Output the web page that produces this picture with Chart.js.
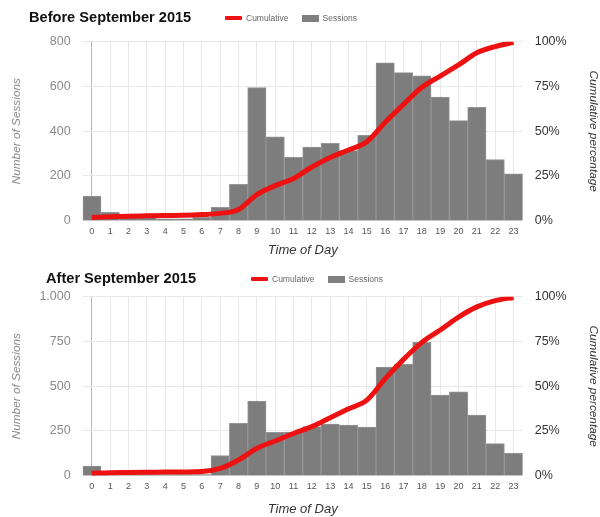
<!DOCTYPE html>
<html lang="en">
<head>
  <meta charset="UTF-8">
  <title>Sessions by Time of Day</title>
  <script src="https://cdn.jsdelivr.net/npm/chart.js"></script>
  <style>
    body {
      margin: 0;
      background: #fff;
      font-family: "Liberation Sans", Arial, sans-serif;
    }
    .panel {
      position: relative;
      width: 600px;
    }
    .title {
      position: absolute;
      font-weight: bold;
      font-size: 14.6px;
      color: #111;
    }
    .legend {
      position: absolute;
      font-size: 8.5px;
      color: #666;
      display: flex;
      align-items: center;
    }
    .legend .line {
      display: inline-block;
      width: 17px;
      height: 4px;
      background: #ee1111;
      border-radius: 1px;
      margin-right: 4px;
    }
    .legend .box {
      display: inline-block;
      width: 17px;
      height: 7px;
      background: #7f7f7f;
      margin: 0 4px 0 13px;
    }
  </style>
</head>
<body>
  <div class="panel" style="height:258px">
    <div class="title" style="left:29px; top:9px">Before September 2015</div>
    <div class="legend" style="left:225px; top:13px"><span class="line"></span>Cumulative<span class="box"></span>Sessions</div>
    <canvas id="beforeChart" width="600" height="258"></canvas>
  </div>
  <div class="panel" style="height:259px">
    <div class="title" style="left:46px; top:12px">After September 2015</div>
    <div class="legend" style="left:251px; top:16px"><span class="line"></span>Cumulative<span class="box"></span>Sessions</div>
    <canvas id="afterChart" width="600" height="259"></canvas>
  </div>

  <script>
    // Hours of the day
    const hours = ['0', '1', '2', '3', '4', '5', '6', '7', '8', '9', '10', '11',
                   '12', '13', '14', '15', '16', '17', '18', '19', '20', '21', '22', '23'];

    // Before September 2015
    const sessionsBefore = [110, 37, 15, 15, 8, 8, 15, 60, 162, 595, 375, 283,
                            329, 346, 313, 381, 706, 662, 647, 553, 447, 507, 273, 210];
    const cumulativeBefore = [1.8, 2.2, 2.5, 2.7, 2.9, 3.0, 3.4, 4.1, 6.3, 14.6, 19.6, 23.6,
                              30.0, 35.3, 39.5, 44.1, 55.0, 65.0, 74.5, 80.8, 87.0, 93.8, 97.3, 99.6];
    const ticksBefore = { max: 800, step: 200 };

    // After September 2015
    const sessionsAfter = [54, 6, 6, 6, 6, 6, 6, 112, 292, 417, 242, 244,
                           274, 289, 283, 272, 607, 622, 745, 451, 469, 339, 179, 125];
    const cumulativeAfter = [1.4, 1.7, 1.8, 1.9, 2.0, 2.1, 2.3, 4.1, 8.8, 15.3, 19.4, 23.6,
                             27.4, 32.4, 37.4, 42.2, 54.2, 65.0, 74.5, 81.4, 88.6, 94.3, 97.8, 99.6];
    const ticksAfter = { max: 1000, step: 250 };

    function makeChart(canvasId, sessions, cumulative, ticks, topPad, xAxisHeight) {
      const ctx = document.getElementById(canvasId).getContext('2d');
      return new Chart(ctx, {
        type: 'bar',
        data: {
          labels: hours,
          datasets: [
            {
              type: 'line',
              label: 'Cumulative',
              data: cumulative,
              yAxisID: 'yPct',
              borderColor: '#ee1111',
              borderWidth: 5,
              pointRadius: 0,
              tension: 0.4,
              cubicInterpolationMode: 'monotone',
              order: 0
            },
            {
              label: 'Sessions',
              data: sessions,
              yAxisID: 'y',
              backgroundColor: '#7d7d7d',
              borderColor: '#959595',
              borderWidth: 1,
              barPercentage: 1,
              categoryPercentage: 1,
              order: 1
            }
          ]
        },
        options: {
          responsive: false,
          devicePixelRatio: 1,
          animation: false,
          layout: { padding: { top: topPad, left: 0, right: 0, bottom: 0 } },
          plugins: {
            legend: { display: false },
            tooltip: { enabled: false }
          },
          scales: {
            x: {
              grid: {
                offset: false,
                drawTicks: false,
                color: (c) => c.index === 0 ? '#b8b8b8' : '#e8e8e8'
              },
              border: { display: false },
              ticks: {
                padding: 5,
                color: '#555',
                font: { size: 9, family: 'Liberation Sans' }
              },
              title: {
                display: true,
                text: 'Time of Day',
                color: '#333',
                padding: 0,
                font: { size: 13, style: 'italic', family: 'Liberation Sans' }
              },
              afterFit: (axis) => { axis.height = xAxisHeight; }
            },
            y: {
              position: 'left',
              min: 0,
              max: ticks.max,
              grid: {
                drawTicks: false,
                color: (c) => c.index === 0 ? '#cccccc' : '#e8e8e8'
              },
              border: { display: false },
              ticks: {
                stepSize: ticks.step,
                padding: 12,
                color: '#8a8a8a',
                font: { size: 12.5, family: 'Liberation Sans' },
                callback: (v) => v >= 1000 ? v.toLocaleString('de-DE') : v
              },
              title: {
                display: true,
                text: 'Number of Sessions',
                color: '#8a8a8a',
                padding: { top: 10, bottom: 0 },
                font: { size: 11.8, style: 'italic', family: 'Liberation Sans' }
              },
              afterFit: (axis) => { axis.width = 82.7; }
            },
            yPct: {
              position: 'right',
              min: 0,
              max: 100,
              grid: { display: false, drawTicks: false },
              border: { display: false },
              ticks: {
                stepSize: 25,
                padding: 12,
                color: '#333',
                font: { size: 12.5, family: 'Liberation Sans' },
                callback: (v) => v + '%'
              },
              title: {
                display: true,
                text: 'Cumulative percentage',
                color: '#333',
                padding: { top: 0, bottom: 0 },
                font: { size: 11.8, style: 'italic', family: 'Liberation Sans' }
              },
              afterFit: (axis) => { axis.width = 77.3; }
            }
          }
        }
      });
    }

    makeChart('beforeChart', sessionsBefore, cumulativeBefore, ticksBefore, 41.7, 37.3);
    makeChart('afterChart', sessionsAfter, cumulativeAfter, ticksAfter, 38.7, 41.3);
  </script>
</body>
</html>
